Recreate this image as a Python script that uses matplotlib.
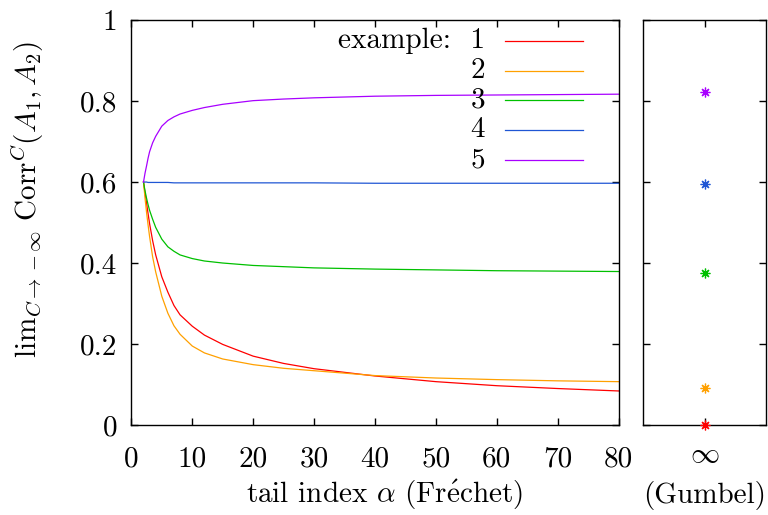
"""
Grenzkorrelation für C -> -inf: Fréchet-Schwanzindex (links) und Gumbel-Fall (rechts).
"""

import matplotlib
matplotlib.use("Agg")
import matplotlib.pyplot as plt

# ============================================
# Daten
# ============================================
alpha = [2, 2.25, 2.5, 2.75, 3, 3.5, 4, 5, 6, 7, 8, 10, 12, 15, 20, 25, 30, 40, 50, 60, 70, 80]

corr_1 = [0.600, 0.573, 0.548, 0.522, 0.497, 0.455, 0.420, 0.366, 0.328, 0.295, 0.272,
          0.244, 0.222, 0.199, 0.170, 0.152, 0.139, 0.121, 0.107, 0.097, 0.090, 0.084]
corr_2 = [0.600, 0.560, 0.525, 0.494, 0.465, 0.415, 0.378, 0.318, 0.276, 0.245, 0.224,
          0.195, 0.178, 0.163, 0.149, 0.140, 0.134, 0.122, 0.116, 0.112, 0.109, 0.107]
corr_3 = [0.600, 0.578, 0.560, 0.544, 0.530, 0.508, 0.488, 0.459, 0.440, 0.429, 0.420,
          0.411, 0.405, 0.400, 0.394, 0.391, 0.388, 0.385, 0.383, 0.381, 0.380, 0.379]
corr_4 = [0.600, 0.600, 0.600, 0.599, 0.599, 0.599, 0.599, 0.599, 0.599, 0.598, 0.598,
          0.598, 0.598, 0.598, 0.598, 0.598, 0.598, 0.597, 0.597, 0.597, 0.597, 0.597]
corr_5 = [0.600, 0.622, 0.640, 0.659, 0.675, 0.697, 0.713, 0.738, 0.752, 0.761, 0.768,
          0.777, 0.784, 0.792, 0.801, 0.805, 0.808, 0.812, 0.814, 0.815, 0.816, 0.817]

gumbel = [0.0, 0.091, 0.375, 0.595, 0.822]

series = [corr_1, corr_2, corr_3, corr_4, corr_5]
labels = ["1", "2", "3", "4", "5"]
colors = ["#ff0000", "#ffa000", "#00c000", "#1f56d4", "#a800ff"]

x_ticks = [0, 10, 20, 30, 40, 50, 60, 70, 80]
y_ticks = [0, 0.2, 0.4, 0.6, 0.8, 1]
y_labels = ["0", "0.2", "0.4", "0.6", "0.8", "1"]

# ============================================
# Stil (gnuplot/LaTeX-Optik)
# ============================================
FS = 21
plt.rcParams["font.family"] = ["cmr10", "DejaVu Serif"]
plt.rcParams["mathtext.fontset"] = "cm"
plt.rcParams["axes.formatter.use_mathtext"] = True
plt.rcParams["font.size"] = FS

fig = plt.figure(figsize=(7.68, 5.15), dpi=100)
ax = fig.add_axes([0.171, 0.1748, 0.6345, 0.7862])
ax2 = fig.add_axes([0.8377, 0.1748, 0.1594, 0.7862])

for a in (ax, ax2):
    for s in a.spines.values():
        s.set_linewidth(1.0)
    a.tick_params(direction="in", length=5, width=1, top=True, right=True,
                  labelsize=FS, pad=15)

# Hauptpanel
for vals, c in zip(series, colors):
    ax.plot(alpha, vals, color=c, lw=0.9)

ax.set_xlim(0, 80)
ax.set_ylim(0, 1)
ax.set_xticks(x_ticks)
ax.set_xticklabels([str(t) for t in x_ticks])
ax.set_yticks(y_ticks)
ax.set_yticklabels(y_labels)
ax.tick_params(axis="y", pad=10)
ax.set_xlabel(r"tail index $\alpha$ (Fr$\mathrm{\acute{e}}$chet)", va="center")
ax.xaxis.set_label_coords(0.52, -0.173)
ax.set_ylabel(r"$\mathrm{lim}_{C\to-\infty}\ \mathrm{Corr}^C(A_1, A_2)$", va="center")
ax.yaxis.set_label_coords(-0.213, 0.556)

# Legende von Hand (Text rechtsbündig, Linie rechts daneben)
row0, step = 0.948, 0.0733
for i, (lab, c) in enumerate(zip(labels, colors)):
    y = row0 - i * step
    txt = ("example:  " + lab) if i == 0 else lab
    ax.text(0.726, y, txt, transform=ax.transAxes, ha="right", va="center",
            fontsize=FS)
    ax.plot([0.767, 0.927], [y, y], transform=ax.transAxes, color=c, lw=0.9)

# Gumbel-Panel
for v, c in zip(gumbel, colors):
    ax2.plot([0], [v], marker=(8, 2, 0), ms=7, mew=0.9, color=c,
             linestyle="none", clip_on=False, zorder=5)

ax2.set_xlim(-1, 1)
ax2.set_ylim(0, 1)
ax2.set_xticks([0])
ax2.set_xticklabels([r"$\infty$"])
ax2.set_yticks(y_ticks)
ax2.tick_params(axis="y", labelleft=False)
ax2.tick_params(axis="x", pad=12)
ax2.set_xlabel("(Gumbel)", va="center")
ax2.xaxis.set_label_coords(0.5, -0.173)

fig.savefig("out.png", dpi=100)
